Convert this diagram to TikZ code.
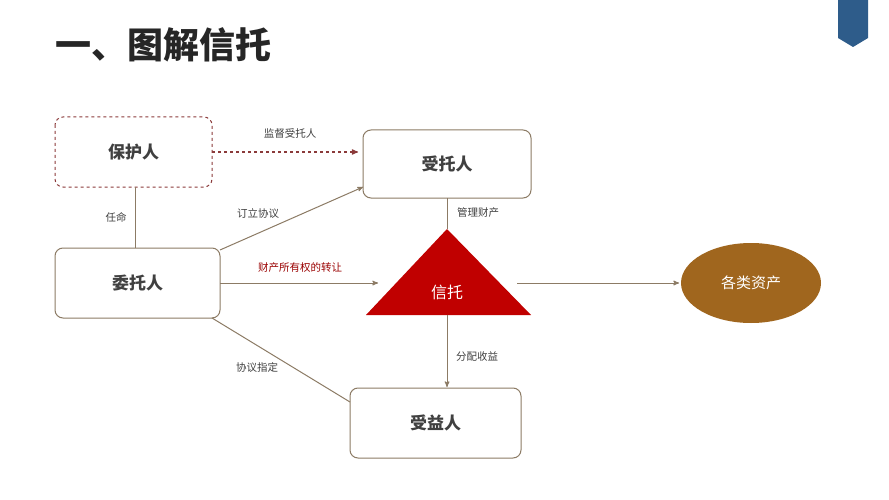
\documentclass[tikz,border=0pt]{standalone}
\usepackage{fontspec}
\setmainfont{Noto Sans CJK SC}
\usetikzlibrary{arrows,shapes.geometric}
\definecolor{edge}{HTML}{8C7B65}
\definecolor{trustred}{HTML}{C00000}
\definecolor{guard}{HTML}{8B3A3A}
\definecolor{asset}{HTML}{A0661E}
\definecolor{tabblue}{HTML}{2E5C8A}

\begin{document}
\begin{tikzpicture}[->,>=stealth',x=1pt,y=-1pt]
\tikzset{party/.style={draw=edge,line width=1pt,rounded corners=8pt}}
\tikzset{who/.style={font=\fontsize{17}{17}\selectfont\bfseries,text=black!75}}
\tikzset{lbl/.style={font=\fontsize{10.5}{11}\selectfont,text=black!75}}
\tikzset{link/.style={draw=edge,line width=1pt}}
\useasboundingbox[fill=white] (0,0) rectangle (889,500);

% title and marker
\node[font=\fontsize{36}{36}\selectfont\bfseries,anchor=west,text=black!85] (title) at (52,45) {一、图解信托};
\fill[tabblue] (838,0) -- (868,0) -- (868,38) -- (853,47) -- (838,38) -- cycle;

% parties
\draw[party,draw=guard,dashed] (55,117) rectangle (212,187);
\node[who] (guard) at (133.5,152) {保护人};
\draw[party] (363,130) rectangle (531,198);
\node[who] (trustee) at (447,164) {受托人};
\draw[party] (55,248) rectangle (220,318);
\node[who] (settlor) at (137.5,283) {委托人};
\draw[party] (350,388) rectangle (521,458);
\node[who] (benef) at (435.5,423) {受益人};

% trust and assets
\fill[trustred] (447,229) -- (531,315) -- (366,315) -- cycle;
\node[text=white,font=\fontsize{16}{16}\selectfont] (trust) at (447,292) {信托};
\fill[asset] (751,283) ellipse (70 and 40);
\node[text=white,font=\fontsize{15}{15}\selectfont] (assets) at (751,283) {各类资产};

% connectors
\coordinate (gR) at (212,152); \coordinate (tL) at (358,152);
\draw[guard,dashed,line width=1.2pt] (gR) -- (tL);
\node[lbl] (l1) at (290,133) {监督受托人};
\coordinate (gB) at (135,187); \coordinate (sT) at (135,248);
\draw[link,-] (gB) -- (sT);
\node[lbl] (l2) at (116,217) {任命};
\coordinate (sA) at (220,250); \coordinate (tA) at (363,187);
\draw[link] (sA) -- (tA);
\node[lbl] (l3) at (258,214) {订立协议};
\coordinate (sR) at (220,283); \coordinate (trL) at (378,283);
\draw[link] (sR) -- (trL);
\node[lbl,text=trustred!80!black] (l4) at (300,268) {财产所有权的转让};
\coordinate (sB) at (212,318); \coordinate (bL) at (350,402);
\draw[link,-] (sB) -- (bL);
\node[lbl] (l5) at (257,368) {协议指定};
\coordinate (tB) at (447,198); \coordinate (trA) at (447,229);
\draw[link,-] (tB) -- (trA);
\node[lbl] (l6) at (478,213) {管理财产};
\coordinate (trB) at (447,315); \coordinate (bT) at (447,387);
\draw[link] (trB) -- (bT);
\node[lbl] (l7) at (477,357) {分配收益};
\coordinate (trR) at (517,283); \coordinate (aL) at (679,283);
\draw[link] (trR) -- (aL);
\end{tikzpicture}
\end{document}
